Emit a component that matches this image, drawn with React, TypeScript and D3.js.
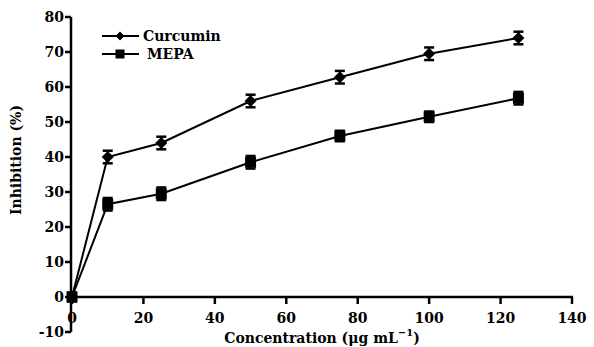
import React from "react";
import * as d3 from "d3";

const concentrations = [0, 10, 25, 50, 75, 100, 125];
const curcumin = [0, 40, 44, 56, 62.8, 69.5, 74];
const curcuminErr = [1.2, 1.8, 1.8, 1.8, 1.8, 1.8, 1.8];
const mepa = [0, 26.5, 29.5, 38.5, 46, 51.5, 56.8];
const mepaErr = [1.2, 1.8, 1.8, 1.8, 1.5, 1.5, 1.8];
const xTicks = [0, 20, 40, 60, 80, 100, 120, 140];
const yTicks = [-10, 0, 10, 20, 30, 40, 50, 60, 70, 80];

const W = 594, H = 347;
const x = d3.scaleLinear().domain([0, 140]).range([72, 572]);
const y = d3.scaleLinear().domain([-10, 80]).range([332, 17]);
const FONT = "DejaVu Serif, serif";

function Diamond({ cx, cy, s }: { cx: number; cy: number; s: number }) {
  return <path d={`M${cx},${cy - s}L${cx + s},${cy}L${cx},${cy + s}L${cx - s},${cy}Z`} fill="#000" />;
}
function Square({ cx, cy, s }: { cx: number; cy: number; s: number }) {
  return <rect x={cx - s} y={cy - s} width={2 * s} height={2 * s} fill="#000" />;
}

export default function App() {
  const line = d3.line<number>().x((_, i) => x(concentrations[i])).y((d) => y(d));
  const series = [
    { name: "Curcumin", vals: curcumin, err: curcuminErr, kind: "diamond" },
    { name: "MEPA", vals: mepa, err: mepaErr, kind: "square" },
  ];
  return (
    <svg width={W} height={H} style={{ position: "absolute", left: 0, top: 0 }} fontFamily={FONT} fontWeight="bold" fontSize={14}>
      <rect width={W} height={H} fill="#fff" />
      <line x1={71} x2={71} y1={y(80)} y2={y(-10)} stroke="#000" strokeWidth={2.5} />
      <line x1={70} x2={x(140) + 1} y1={y(0)} y2={y(0)} stroke="#000" strokeWidth={2.5} />
      {yTicks.map((t) => (
        <g key={t}>
          <line x1={65} x2={71} y1={y(t)} y2={y(t)} stroke="#000" strokeWidth={2.5} />
          <text x={64} y={y(t)} dy="0.36em" textAnchor="end">{t}</text>
        </g>
      ))}
      {xTicks.map((t) => (
        <g key={t}>
          <line x1={x(t)} x2={x(t)} y1={y(0)} y2={y(0) + 7} stroke="#000" strokeWidth={2.5} />
          <text x={x(t)} y={y(0) + 26} textAnchor="middle">{t}</text>
        </g>
      ))}
      <text transform={`translate(21,160) rotate(-90)`} textAnchor="middle">Inhibition (%)</text>
      <text x={322} y={343} textAnchor="middle">
        Concentration (μg mL<tspan dy={-7} fontSize={10}>−1</tspan><tspan dy={7}>)</tspan>
      </text>
      {series.map((s) => (
        <g key={s.name}>
          <path d={line(s.vals) || ""} fill="none" stroke="#000" strokeWidth={2} />
          {s.vals.map((v, i) => {
            const cx = x(concentrations[i]);
            const cy = y(v);
            const t = y(v + s.err[i]);
            const b = y(v - s.err[i]);
            return (
              <g key={i}>
                <line x1={cx} x2={cx} y1={t} y2={b} stroke="#000" strokeWidth={2} />
                <line x1={cx - 5} x2={cx + 5} y1={t} y2={t} stroke="#000" strokeWidth={2.5} />
                <line x1={cx - 5} x2={cx + 5} y1={b} y2={b} stroke="#000" strokeWidth={2.5} />
                {s.kind === "diamond" ? <Diamond cx={cx} cy={cy} s={6} /> : <Square cx={cx} cy={cy} s={5.5} />}
              </g>
            );
          })}
        </g>
      ))}
      <line x1={102} x2={139} y1={36} y2={36} stroke="#000" strokeWidth={2} />
      <Diamond cx={120} cy={36} s={4.5} />
      <text x={143} y={36} dy="0.36em">Curcumin</text>
      <line x1={102} x2={139} y1={54} y2={54} stroke="#000" strokeWidth={2} />
      <Square cx={120} cy={54} s={4.5} />
      <text x={147} y={54} dy="0.36em">MEPA</text>
    </svg>
  );
}
